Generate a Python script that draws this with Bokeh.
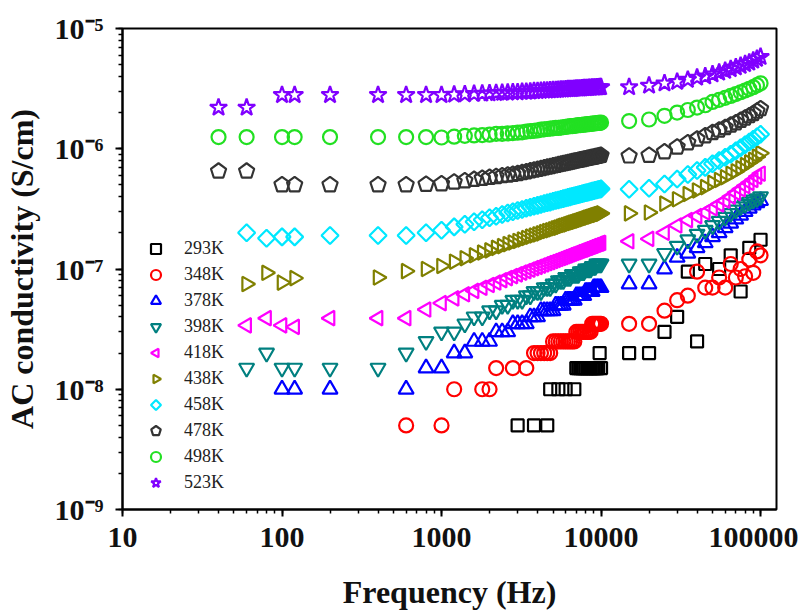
import math
from bokeh.plotting import figure
from bokeh.models import ColumnDataSource, Legend, LegendItem, CustomJSTickFormatter
from bokeh.embed import file_html
from bokeh.resources import INLINE

nan = float("nan")

# ---------------- data ----------------
FREQ_LOW = [40, 60, 80, 100, 120, 200, 400, 600, 800]
FREQ_MID = [1000, 1200, 1400, 1600, 1800, 2000, 2200, 2400, 2600, 2800,
            3000, 3200, 3400, 3600, 3800, 4000, 4200, 4400, 4600, 4800,
            5000, 5200, 5400, 5600, 5800, 6000, 6200, 6400, 6600, 6800,
            7000, 7200, 7400, 7600, 7800, 8000, 8200, 8400, 8600, 8800,
            9000, 9200, 9400, 9600, 9800, 10000]
FREQ_HIGH = [15000, 20000, 25000, 30000, 35000, 40000, 45000, 50000, 55000,
             60000, 65000, 70000, 75000, 80000, 85000, 90000, 95000, 100000]
FREQ = FREQ_LOW + FREQ_MID + FREQ_HIGH

# AC conductivity in units of 1e-8 S/cm (nan = no point drawn)
S293 = ([nan] * 9 +
        [nan] * 10 +
        [0.5, nan, nan, nan, 0.5, nan, nan, nan, 0.5, 1] +
        [nan, nan, 1, nan, nan, 1, nan, nan, nan, 1] +
        [1.5, 1.5, 1.5, 1.5, 1.5, 1.5, 1.5, 1.5, 1.5, 1.5] +
        [1.5, 1.5, 1.5, 1.5, 2, 1.5] +
        [2, 2, 3, 4, 9.5, 2.5, 11, nan, 10, nan, 13, nan, 6.5, nan, 15, nan, nan, 17.5])
S348 = ([nan, nan, nan, nan, nan, nan, nan, 0.5, nan] +
        [0.5, 1, nan, nan, 1, 1, 1.5, nan, nan, 1.5] +
        [nan, nan, 1.5, nan, 2, 2, 2, 2, 2, 2] +
        [2.5, 2.5, 2.5, 2.5, 2.5, 2.5, 2.5, 2.5, 2.5, 2.5] +
        [3, 3, 3, 3, 3, 3, 3, 3, 3, 3.5] +
        [3.5, 3.5, 3.5, 3.5, 3.5, 3.5] +
        [3.5, 3.5, 4.5, 5.5, 6, 9.5, 7, 7, 8.5, 7, 11, 8.5, 10, 8.7, 12, 9.3, 14, 13])
S378 = ([nan, nan, nan, 1, 1, 1, nan, 1, 1.5] +
        [1.5, 2, 2, 2.5, 2.5, 2.5, 3, 3, 3, 3.5] +
        [3.5, 3.5, 3.5, 4, 4, 4, 4.5, 4.5, 4.5, 4.5] +
        [4.5, 5, 5, 5, 5, 5.5, 5.5, 5.5, 5.5, 5.5] +
        [6, 6, 6, 6, 6, 6.5, 6.5, 6.5, 6.5, 6.5] +
        [7, 7, 7, 7, 7, 7] +
        [7.5, 7.5, 10, 12.5, 13.5, 15, 16.5, 18.5, 20, 22, 24, 26, 28, 30, 32, 34, 35.5, 37])
S398 = ([nan, 1.5, 2, 1.5, 1.5, 1.5, 1.5, 2, 2.5] +
        [3, 3, 3.5, 4, 4, 4.5, 4.5, 5, 5, 5.5] +
        [5.5, 5.5, 6, 6, 6.5, 6.5, 6.5, 7, 7, 7] +
        [7.5, 7.5, 8, 8, 8, 8.5, 8.5, 8.5, 9, 9] +
        [9, 9, 9.5, 9.5, 9.5, 10, 10, 10, 10, 10.5] +
        [10.5, 10.5, 11, 11, 11, 11] +
        [11, 11, 13.5, 15.5, 17.5, 19.5, 21, 23, 25, 27, 29, 31, 33, 34.5, 36, 37.5, 38.5, 40])
S418 = ([nan, 3.4, 3.9, 3.4, 3.3, 3.9, 3.9, 3.9, 4.6] +
        [5.2, 5.7, 6.16, 6.58, 6.98, 7.36, 7.72, 8.07, 8.4, 8.72] +
        [9.02, 9.32, 9.61, 9.89, 10.16, 10.42, 10.68, 10.93, 11.18, 11.42] +
        [11.65, 11.89, 12.11, 12.34, 12.56, 12.77, 12.98, 13.19, 13.4, 13.6] +
        [13.8, 13.99, 14.19, 14.38, 14.57, 14.75, 14.94, 15.12, 15.3, 15.48] +
        [15.65, 15.83, 16, 16.17, 16.33, 16.5] +
        [17, 17.8, 20, 23, 25.5, 27.5, 29.5, 32, 34.5, 37, 40, 43, 46, 49, 52, 55, 58.5, 62])
S438 = ([nan, 7.5, 9.3, 7.7, 8.4, nan, 8.5, 9.6, 10] +
        [10.6, 11.5, 12.3, 13, 13.7, 14.3, 15, 15.5, 16.1, 16.6] +
        [17.1, 17.6, 18.1, 18.6, 19, 19.4, 19.8, 20.3, 20.7, 21] +
        [21.4, 21.8, 22.1, 22.5, 22.9, 23.2, 23.5, 23.9, 24.2, 24.5] +
        [24.8, 25.1, 25.4, 25.7, 26, 26.3, 26.6, 26.9, 27.2, 27.4] +
        [27.7, 28, 28.2, 28.5, 28.7, 29] +
        [29, 29.5, 35, 38, 42, 45, 48, 52, 55, 58, 62, 65, 69, 73, 77, 81, 86, 92])
S458 = ([nan, 20, 18, 18.5, 18.5, 19, 19, 19, 20] +
        [21, 22.4, 23.6, 24.7, 25.7, 26.7, 27.5, 28.4, 29.2, 29.9] +
        [30.7, 31.3, 32, 32.6, 33.3, 33.8, 34.4, 35, 35.5, 36] +
        [36.6, 37.1, 37.5, 38, 38.5, 38.9, 39.4, 39.8, 40.2, 40.6] +
        [41.1, 41.4, 41.8, 42.2, 42.6, 43, 43.3, 43.7, 44.1, 44.4] +
        [44.7, 45.1, 45.4, 45.8, 46.1, 46.4] +
        [46, 47, 51, 56, 61, 66, 70, 75, 80, 85, 90, 96, 102, 108, 114, 120, 126, 132])
S478 = ([65, 65, nan, 50, 50, 50, 50, 50, 50.5] +
        [51, 52.7, 54.1, 55.5, 56.6, 57.7, 58.7, 59.6, 60.4, 61.3] +
        [62, 63.2, 64.3, 65.4, 66.4, 67.4, 68.4, 69.3, 70.2, 71.1] +
        [71.9, 72.8, 73.6, 74.4, 75.1, 75.9, 76.6, 77.3, 78, 78.7] +
        [79.4, 80, 80.6, 81.3, 81.9, 82.5, 83.1, 83.7, 84.2, 84.8] +
        [85.3, 85.9, 86.4, 87, 87.5, 88] +
        [87, 88, 94, 103, 112, 120, 128, 136, 143, 150, 157, 164, 172, 180, 188, 196, 205, 215])
S498 = ([125, 125, nan, 125, 125, 125, 125, 125, 125] +
        [124, 126, 128, 129, 130, 131, 133, 133, 134, 135] +
        [136, 137, 139, 140, 141, 142, 144, 145, 146, 147] +
        [148, 149, 149, 150, 151, 152, 153, 154, 154, 155] +
        [156, 157, 157, 158, 159, 159, 160, 160, 161, 162] +
        [162, 163, 163, 164, 164, 165] +
        [170, 175, 188, 200, 210, 220, 230, 245, 255, 265, 275, 285, 295, 305, 315, 325, 338, 350])
S523 = ([220, 220, nan, 280, 280, 280, 280, 280, 280] +
        [280, 282, 284, 286, 288, 289, 291, 292, 293, 294] +
        [295, 297, 298, 299, 301, 302, 303, 304, 305, 306] +
        [307, 308, 309, 310, 311, 312, 313, 314, 314, 315] +
        [316, 317, 317, 318, 319, 319, 320, 321, 321, 322] +
        [323, 323, 324, 324, 325, 325] +
        [325, 335, 350, 360, 375, 390, 400, 415, 430, 445, 460, 475, 490, 505, 520, 540, 560, 580])

UNIT = 1e-8
LABELS = ["293K", "348K", "378K", "398K", "418K", "438K", "458K", "478K", "498K", "523K"]
SERIES = [S293, S348, S378, S398, S418, S438, S458, S478, S498, S523]
COLORS = ["#000000", "#FF0000", "#0000FF", "#008080", "#FF00FF",
          "#808000", "#00E8FF", "#333333", "#22E022", "#8000FF"]
# ("scatter", marker, size) or ("ngon", sides, circumradius, angle)
SHAPES = [("scatter", "square", 12), ("scatter", "circle", 14),
          ("scatter", "triangle", 15), ("scatter", "inverted_triangle", 15),
          ("ngon", 3, 8.5, math.pi / 2), ("ngon", 3, 8.5, -math.pi / 2),
          ("ngon", 4, 8.5, 0.0), ("ngon", 5, 8.0, 0.0),
          ("scatter", "circle", 14), ("scatter", "star", 18)]

X_RANGE = (10, 125893)
Y_RANGE = (1e-9, 1e-5)

SERIF = "Liberation Serif"

p = figure(width=798, height=613, x_axis_type="log", y_axis_type="log",
           x_range=X_RANGE, y_range=Y_RANGE,
           output_backend="svg", toolbar_location=None,
           min_border_left=120, min_border_right=22,
           min_border_top=28, min_border_bottom=104,
           x_axis_label="Frequency (Hz)", y_axis_label="AC conductivity (S/cm)")
p.grid.visible = False
p.outline_line_color = "black"
p.outline_line_width = 2
p.background_fill_color = "white"
p.border_fill_color = "white"

for ax in (p.xaxis[0], p.yaxis[0]):
    ax.axis_line_width = 2
    ax.major_tick_line_width = 2
    ax.minor_tick_line_width = 1.5
    ax.major_tick_out = 7
    ax.major_tick_in = 0
    ax.minor_tick_out = 4
    ax.minor_tick_in = 0
    ax.major_label_text_font = SERIF
    ax.major_label_text_font_style = "bold"
    ax.major_label_text_font_size = "30px"
    ax.major_label_text_color = "#111111"
    ax.axis_label_text_font = SERIF
    ax.axis_label_text_font_style = "bold"
    ax.axis_label_text_font_size = "32px"
    ax.axis_label_text_color = "#111111"

p.xaxis[0].formatter = CustomJSTickFormatter(code="return tick.toFixed(0);")
p.xaxis[0].major_label_standoff = 11
p.xaxis[0].axis_label_standoff = 24
p.yaxis[0].formatter = CustomJSTickFormatter(code="""
const sup = {'-': '\\u207b', '0': '\\u2070', '1': '\\u00b9', '2': '\\u00b2', '3': '\\u00b3',
             '4': '\\u2074', '5': '\\u2075', '6': '\\u2076', '7': '\\u2077', '8': '\\u2078', '9': '\\u2079'};
const e = Math.round(Math.log10(tick));
return '10' + String(e).split('').map(c => sup[c]).join('');
""")
p.yaxis[0].major_label_standoff = 12
p.yaxis[0].axis_label_standoff = 12

items = []
for lab, vals, col, shp in zip(LABELS, SERIES, COLORS, SHAPES):
    xs = [f for f, v in zip(FREQ, vals) if not math.isnan(v)]
    ys = [v * UNIT for v in vals if not math.isnan(v)]
    src = ColumnDataSource(data=dict(x=xs, y=ys))
    if shp[0] == "ngon":
        r = p.ngon(x="x", y="y", radius=shp[2], radius_units="screen", n=shp[1],
                   angle=shp[3], source=src,
                   fill_alpha=0, line_color=col, line_width=2.2)
    else:
        r = p.scatter(x="x", y="y", marker=shp[1], size=shp[2], source=src,
                      fill_alpha=0, line_color=col, line_width=2.2)
    items.append(LegendItem(label=lab, renderers=[r]))

legend = Legend(items=items, location=(21, 14))
legend.padding = 0
legend.margin = 0
legend.spacing = 1
legend.glyph_width = 25
legend.glyph_height = 25
legend.label_height = 25
legend.label_standoff = 16
legend.border_line_alpha = 0
legend.background_fill_alpha = 0
legend.label_text_font = SERIF
legend.label_text_font_size = "18px"
legend.label_text_color = "#222222"
p.add_layout(legend)

open("out.html", "w").write(file_html(p, INLINE))
